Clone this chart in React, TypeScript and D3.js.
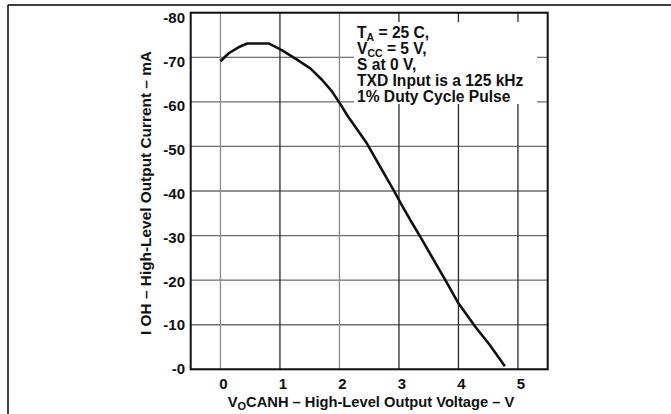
import React from 'react';
import * as d3 from 'd3';

// Curve: VO(CANH) in volts, IOH in mA
const voltage = [0, 0.14, 0.31, 0.45, 0.81, 1.03, 1.26, 1.51, 1.71, 1.87, 2.01, 2.13, 2.46, 2.91, 3.05, 3.19, 3.36, 3.78, 4.0, 4.28, 4.53, 4.78];
const current = [-69.1, -70.9, -72.3, -73.1, -73.1, -71.6, -69.7, -67.5, -64.9, -62.4, -59.6, -57, -50.7, -40.2, -36.8, -33.5, -29.7, -20.0, -14.8, -9.6, -5.4, -0.7];

const xTicks = [0, 1, 2, 3, 4, 5];
const yTicks = [-80, -70, -60, -50, -40, -30, -20, -10, 0];
const yTickLabels = ['-80', '-70', '-60', '-50', '-40', '-30', '-20', '-10', '-0'];

const W = 671;
const H = 414;
const FONT = '"Liberation Sans", Arial, Helvetica, sans-serif';

const App: React.FC = () => {
  const x = d3.scaleLinear().domain([-0.5, 5.5]).range([190.7, 547.7]);
  const y = d3.scaleLinear().domain([0, -80]).range([369.3, 12.7]);
  // tick labels sit a little lower than the grid near the top in the original
  const yLabel = d3.scaleLinear().domain([0, -80]).range([369, 17.5]);

  const pts = voltage.map((v, i) => [v, current[i]] as [number, number]);
  const line = d3
    .line<[number, number]>()
    .x((d) => x(d[0]))
    .y((d) => y(d[1]));

  const vGridColor = (t: number) => (t === 0 || t === 2 ? '#8a8a8a' : '#2a2a2a');

  return (
    <svg
      width={W}
      height={H}
      style={{position: 'fixed', left: 0, top: 0, background: '#fff'}}
      fontFamily={FONT}
      fontWeight="bold"
    >
      {/* page frame */}
      <line x1={8} x2={W} y1={5} y2={5} stroke="#000" strokeWidth={1.5} />
      <line x1={8} x2={8} y1={5} y2={H} stroke="#000" strokeWidth={1.5} />

      {/* grid */}
      {yTicks.map((t) => (
        <line key={'h' + t} x1={x(-0.5)} x2={x(5.5)} y1={y(t)} y2={y(t)} stroke="#6e6e6e" strokeWidth={1.3} />
      ))}
      {xTicks.map((t) => (
        <line key={'v' + t} x1={x(t)} x2={x(t)} y1={y(-80)} y2={y(0)} stroke={vGridColor(t)} strokeWidth={1.3} />
      ))}

      {/* annotation box covers the grid */}
      <rect x={354} y={22} width={183} height={82} fill="#fff" />
      <g fontSize={15.6} fill="#111">
        <text x={357} y={38}>
          T<tspan fontSize={10.5} dy={2.5}>A</tspan>
          <tspan dy={-2.5}> = 25 C,</tspan>
        </text>
        <text x={357} y={54}>
          V<tspan fontSize={10.5} dy={2.5}>CC</tspan>
          <tspan dy={-2.5}> = 5 V,</tspan>
        </text>
        <text x={357} y={70}>S at 0 V,</text>
        <text x={357} y={86}>TXD Input is a 125 kHz</text>
        <text x={357} y={102}>1% Duty Cycle Pulse</text>
      </g>

      {/* curve */}
      <path d={line(pts) ?? ''} fill="none" stroke="#111" strokeWidth={2.6} strokeLinejoin="round" />

      {/* plot frame */}
      <rect x={x(-0.5)} y={y(-80)} width={x(5.5) - x(-0.5)} height={y(0) - y(-80)} fill="none" stroke="#111" strokeWidth={2} />

      {/* tick labels */}
      <g fontSize={15} fill="#111">
        {yTicks.map((t, i) => (
          <text key={'yl' + t} x={185} y={yLabel(t)} dy="0.36em" textAnchor="end">
            {yTickLabels[i]}
          </text>
        ))}
        {xTicks.map((t) => (
          <text key={'xl' + t} x={x(t) + 3} y={384} dy="0.36em" textAnchor="middle">
            {t}
          </text>
        ))}
      </g>

      {/* axis titles */}
      <text x={371} y={406.5} fontSize={14.7} textAnchor="middle" fill="#111">
        V<tspan fontSize={11} dy={3}>O</tspan>
        <tspan dy={-3}>CANH – High-Level Output Voltage – V</tspan>
      </text>
      <text transform="translate(151,193) rotate(-90)" fontSize={15.4} textAnchor="middle" fill="#111">
        I OH – High-Level Output Current – mA
      </text>
    </svg>
  );
};

export default App;
